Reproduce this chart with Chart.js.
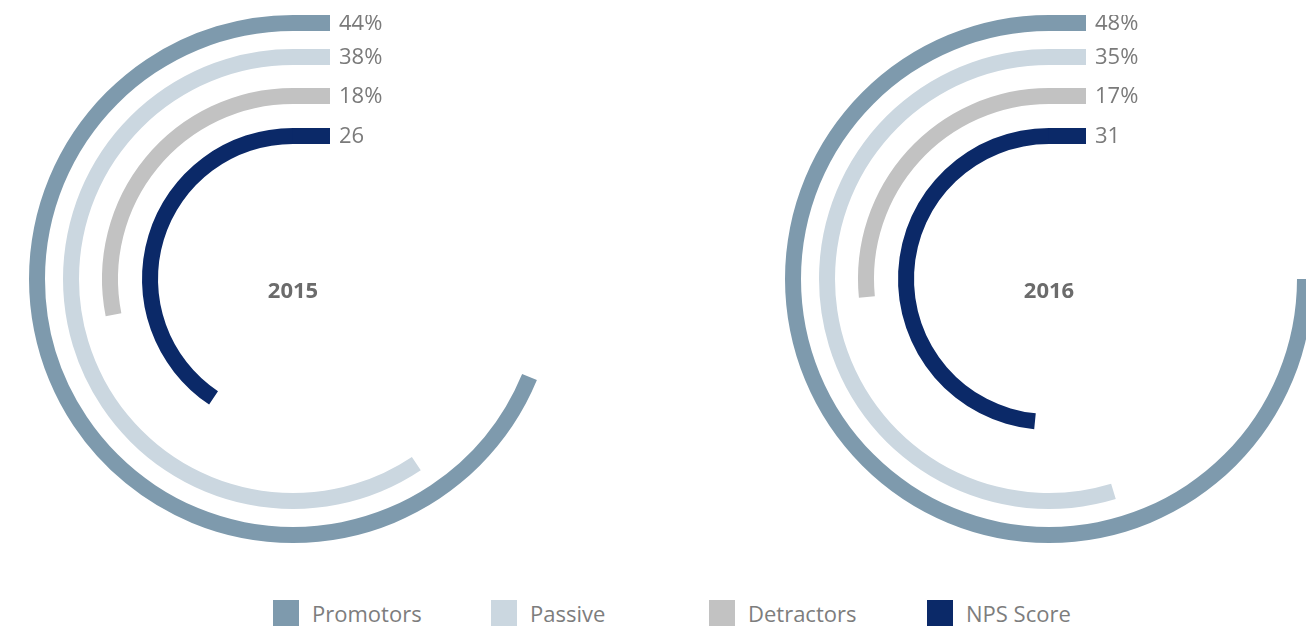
<!DOCTYPE html>
<html>
<head>
<meta charset="utf-8">
<script src="https://cdn.jsdelivr.net/npm/chart.js@4.4.1/dist/chart.umd.min.js"></script>
<style>
  html, body { margin: 0; padding: 0; background: #fff; overflow: hidden; width: 1306px; height: 626px; }
  .ring-chart { position: absolute; top: 15px; width: 528px; height: 528px; }
  #legend { position: absolute; left: 273px; top: 600px; display: flex; font-family: "Open Sans", sans-serif; font-size: 22px; color: #7d7d7d; }
  .legend-item { width: 218px; display: flex; align-items: center; height: 26px; }
  .legend-box { width: 26px; height: 26px; margin-right: 13px; flex: none; }
</style>
</head>
<body>
<canvas id="chart2015" class="ring-chart" width="528" height="528" style="left:29px"></canvas>
<canvas id="chart2016" class="ring-chart" width="528" height="528" style="left:785px"></canvas>
<div id="legend"></div>
<script>
// Series names and colours
const seriesNames = ['Promotors', 'Passive', 'Detractors', 'NPS Score'];
const seriesColors = ['#7e9aad', '#cbd7e0', '#c2c2c2', '#0b2968'];

// Values per year
const years = ['2015', '2016'];
const values2015 = [44, 38, 18, 26];
const values2016 = [48, 35, 17, 31];
const valueLabels2015 = ['44%', '38%', '18%', '26'];
const valueLabels2016 = ['48%', '35%', '17%', '31'];

// full circle equals this value
const scaleMax = 64;
const ringWeight = 16;
const gapWeights = [18, 23, 24];

// Straight bar from the top of each ring to the label, plus labels and year in the middle
const ringLabels = {
    id: 'ringLabels',
    afterDatasetsDraw(chart, args, opts) {
        const ctx = chart.ctx;
        ctx.save();
        chart.data.datasets.forEach((ds, i) => {
            if (ds.spacer) return;
            const arc = chart.getDatasetMeta(i).data[1];
            const cx = arc.x, cy = arc.y;
            ctx.fillStyle = ds.backgroundColor[1];
            ctx.fillRect(cx - 0.5, cy - arc.outerRadius, 37.5, arc.outerRadius - arc.innerRadius);
            ctx.fillStyle = '#7a7a7a';
            ctx.font = '22px "Open Sans", sans-serif';
            ctx.textBaseline = 'middle';
            ctx.textAlign = 'left';
            ctx.fillText(ds.valueLabel, cx + 46, cy - (arc.outerRadius + arc.innerRadius) / 2 + 1);
        });
        const c = chart.getDatasetMeta(0).data[1];
        ctx.fillStyle = '#6b6b6b';
        ctx.font = 'bold 22px "Open Sans", sans-serif';
        ctx.textAlign = 'center';
        ctx.textBaseline = 'middle';
        ctx.fillText(opts.year, c.x, c.y + 13);
        ctx.restore();
    }
};

function makeChart(id, year, values, labels) {
    const datasets = [];
    values.forEach((v, i) => {
        if (i > 0) {
            datasets.push({ data: [1], backgroundColor: ['rgba(0,0,0,0)'], weight: gapWeights[i - 1], spacer: true, borderWidth: 0 });
        }
        datasets.push({
            label: seriesNames[i],
            data: [scaleMax - v, v],
            backgroundColor: ['rgba(0,0,0,0)', seriesColors[i]],
            weight: ringWeight,
            borderWidth: 0,
            valueLabel: labels[i]
        });
    });
    return new Chart(document.getElementById(id), {
        type: 'doughnut',
        data: { labels: ['rest', 'value'], datasets: datasets },
        options: {
            responsive: false,
            animation: false,
            events: [],
            cutout: 135,
            layout: { padding: 0 },
            plugins: {
                legend: { display: false },
                tooltip: { enabled: false },
                ringLabels: { year: year }
            }
        },
        plugins: [ringLabels]
    });
}

makeChart('chart2015', years[0], values2015, valueLabels2015);
makeChart('chart2016', years[1], values2016, valueLabels2016);

// Legend
const legend = document.getElementById('legend');
seriesNames.forEach((name, i) => {
    const item = document.createElement('div');
    item.className = 'legend-item';
    item.innerHTML = `<span class="legend-box" style="background:${seriesColors[i]}"></span><span>${name}</span>`;
    legend.appendChild(item);
});
</script>
</body>
</html>
